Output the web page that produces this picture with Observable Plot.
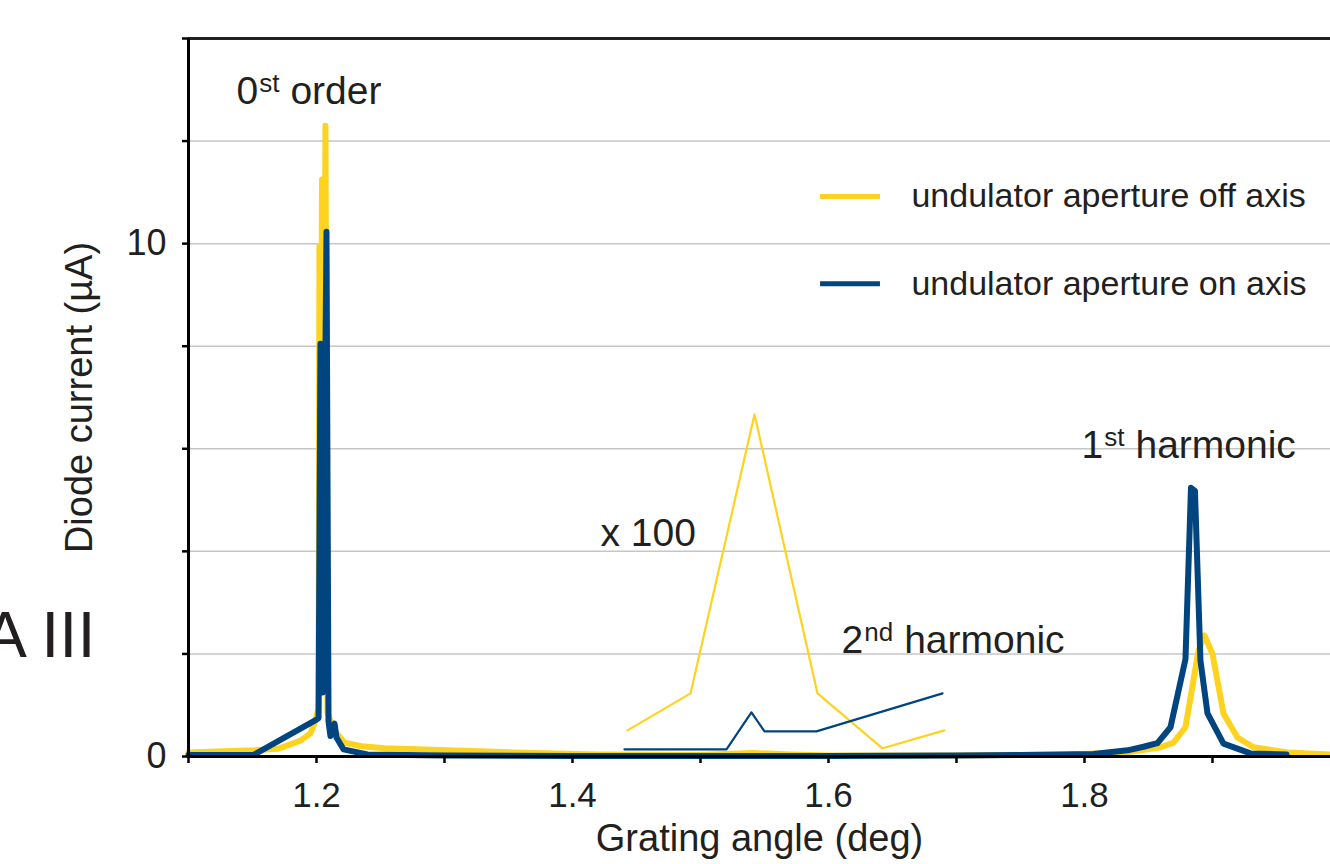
<!DOCTYPE html>
<html><head><meta charset="utf-8">
<script src="https://cdn.jsdelivr.net/npm/d3@7"></script>
<script src="https://cdn.jsdelivr.net/npm/@observablehq/plot@0.6"></script>
<style>html,body{margin:0;padding:0;background:#fff;}</style>
</head><body><div id="chart"></div>
<script>
// Off-axis (yellow) diode current, µA
const offAngle = [1.100, 1.150, 1.170, 1.1875, 1.1953, 1.1992, 1.2016, 1.2023, 1.2031, 1.2043, 1.2055, 1.2070, 1.2086, 1.2102, 1.2141, 1.2219, 1.2352, 1.2531, 1.3023, 1.3539, 1.4195, 1.5000, 1.5400, 1.5700, 1.6000, 1.7000, 1.7800, 1.8100, 1.8336, 1.8594, 1.8695, 1.8789, 1.8891, 1.8938, 1.9000, 1.9086, 1.9195, 1.9320, 1.9586, 1.9922];
const offCurrent = [0.08, 0.12, 0.15, 0.31, 0.45, 0.70, 0.95, 9.95, 2.5, 11.25, 3.0, 12.3, 0.85, 0.74, 0.50, 0.27, 0.20, 0.16, 0.12, 0.08, 0.04, 0.03, 0.07, 0.04, 0.02, 0.02, 0.04, 0.06, 0.08, 0.18, 0.27, 0.57, 2.07, 2.36, 2.00, 0.84, 0.37, 0.18, 0.08, 0.04];
// On-axis (blue) diode current, µA
const onAngle = [1.100, 1.1508, 1.2000, 1.2016, 1.2031, 1.2047, 1.2078, 1.2094, 1.2109, 1.2141, 1.2156, 1.2211, 1.2398, 1.3000, 1.4000, 1.5000, 1.6000, 1.7000, 1.7500, 1.7813, 1.8070, 1.8336, 1.8461, 1.8570, 1.8672, 1.8789, 1.8832, 1.8863, 1.8906, 1.8961, 1.9086, 1.9297, 1.9578];
const onCurrent = [0.03, 0.03, 0.72, 0.75, 8.05, 1.25, 10.23, 0.68, 0.40, 0.64, 0.37, 0.14, 0.04, 0.02, 0.01, 0.01, 0.01, 0.02, 0.03, 0.04, 0.05, 0.12, 0.19, 0.26, 0.57, 1.9, 5.24, 5.18, 1.87, 0.84, 0.25, 0.06, 0.04];
// 2nd harmonic region, magnified x 100
const offX100Angle = [1.4430, 1.4922, 1.5422, 1.5914, 1.6422, 1.6906];
const offX100Current = [0.51, 1.23, 6.67, 1.23, 0.16, 0.51];
const onX100Angle = [1.4406, 1.5203, 1.5398, 1.5500, 1.5906, 1.6891];
const onX100Current = [0.14, 0.14, 0.86, 0.49, 0.49, 1.23];

const seriesNames = ["undulator aperture off axis", "undulator aperture on axis"];
const seriesColors = ["#FED31F", "#00457F"];

const xTicks = [1.1, 1.2, 1.3, 1.4, 1.5, 1.6, 1.7, 1.8, 1.9];
const xTickLabels = [1.2, 1.4, 1.6, 1.8];
const yTicks = [0, 2, 4, 6, 8, 10, 12, 14];
const yTickLabels = [0, 10];
const xTitle = "Grating angle (deg)";
const yTitle = "Diode current (µA)";
const annotations = [
  {x: 1.1375, y: 12.73, base: "0", sup: "st", rest: "order"},
  {x: 1.7977, y: 5.83, base: "1", sup: "st", rest: "harmonic"},
  {x: 1.6102, y: 2.01, base: "2", sup: "nd", rest: "harmonic"}
];
const scaleNote = "x 100";
const panelLabel = "A III";

const mk = (xs, ys) => xs.map((x, i) => ({x, y: ys[i]}));
const off = mk(offAngle, offCurrent), on = mk(onAngle, onCurrent);
const off100 = mk(offX100Angle, offX100Current), on100 = mk(onX100Angle, onX100Current);
const legend = seriesNames.map((name, i) => ({name, color: seriesColors[i], y: [10.92, 9.22][i]}));
const ink = "#231F20";
const FONT = "'Liberation Sans', Arial, sans-serif";

const ctx = document.createElement("canvas").getContext("2d");
function textWidth(t, size) { ctx.font = `${size}px ${FONT}`; return ctx.measureText(t).width; }

const annoSize = 39, supSize = 26;
const annoMarks = annotations.flatMap(a => {
  const bw = textWidth(a.base, annoSize);
  const sw = textWidth(a.sup, supSize);
  const common = {x: a.x, y: a.y, textAnchor: "start", lineAnchor: "bottom", fill: ink};
  return [
    Plot.text([a.base], {...common, fontSize: annoSize}),
    Plot.text([a.sup], {...common, dx: bw + 1, dy: -12, fontSize: supSize}),
    Plot.text([a.rest], {...common, dx: bw + 1 + sw + 11, fontSize: annoSize})
  ];
});

const chart = Plot.plot({
  width: 1330, height: 864,
  marginLeft: 188, marginRight: 0, marginTop: 38, marginBottom: 108,
  x: {domain: [1.1, 1.9922]},
  y: {domain: [0, 14]},
  style: {fontFamily: FONT, background: "#fff", color: ink, overflow: "visible"},
  marks: [
    Plot.gridY(yTicks.filter(d => d > 0 && d < 14), {stroke: "#c6c6c6", strokeOpacity: 1, strokeWidth: 1.5}),
    Plot.line(off, {x: "x", y: "y", stroke: seriesColors[0], strokeWidth: 6}),
    Plot.line(on, {x: "x", y: "y", stroke: seriesColors[1], strokeWidth: 6}),
    Plot.line(off100, {x: "x", y: "y", stroke: seriesColors[0], strokeWidth: 2.2}),
    Plot.line(on100, {x: "x", y: "y", stroke: seriesColors[1], strokeWidth: 2.2}),
    Plot.ruleY([14], {stroke: "#222", strokeWidth: 3}),
    Plot.ruleY([0], {stroke: "#000", strokeWidth: 3}),
    Plot.ruleX([1.1], {stroke: "#000", strokeWidth: 3}),
    Plot.axisX({ticks: xTicks, tickFormat: d => xTickLabels.includes(d) ? d.toFixed(1) : "", tickSize: 7, tickPadding: 19, fontSize: 35, label: null, stroke: "#000", strokeWidth: 2.5, fill: ink}),
    Plot.axisY({ticks: yTicks, tickFormat: d => yTickLabels.includes(d) ? String(d) : "", tickSize: 6, tickPadding: 16, fontSize: 36, label: null, stroke: "#000", strokeWidth: 2.5, fill: ink}),
    Plot.text([xTitle], {frameAnchor: "bottom", dy: 82, lineAnchor: "middle", textAnchor: "middle", fontSize: 38, fill: ink}),
    Plot.text([yTitle], {frameAnchor: "left", dx: -109, rotate: -90, textAnchor: "middle", lineAnchor: "middle", fontSize: 38, fill: ink}),
    Plot.text([panelLabel], {frameAnchor: "left", dx: -93, dy: 239, textAnchor: "end", lineAnchor: "middle", fontSize: 65, fill: ink}),
    ...annoMarks,
    Plot.text([scaleNote], {x: 1.4219, y: 4.11, textAnchor: "start", lineAnchor: "bottom", fontSize: annoSize, fill: ink}),
    // legend
    Plot.ruleY(legend, {y: "y", x1: 1.5938, x2: 1.6406, stroke: "color", strokeWidth: 5}),
    Plot.text(legend, {y: "y", x: 1.6648, text: "name", textAnchor: "start", lineAnchor: "middle", fontSize: 34, fill: ink})
  ]
});
document.getElementById("chart").appendChild(chart);
</script>
</body></html>
